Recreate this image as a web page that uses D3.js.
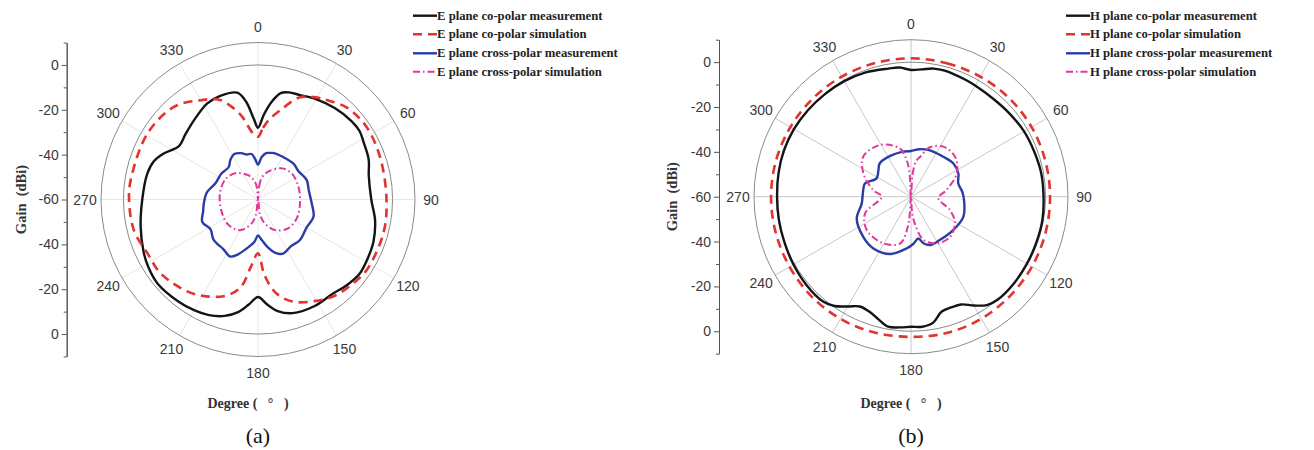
<!DOCTYPE html>
<html>
<head>
<meta charset="utf-8">
<script src="https://cdn.jsdelivr.net/npm/d3@7"></script>
<style>
  body { margin: 0; background: #ffffff; }
</style>
</head>
<body>
<div id="chart"></div>
<script>
// angles in degrees (0 = top, clockwise), gain in dBi

// (a) E plane
const eCoMeasDeg  = [0, 4, 8, 12, 16, 22, 30, 40, 50, 56, 62, 70, 78, 90, 100, 110, 118, 126, 134, 142, 152, 163, 170, 175, 180, 185, 190, 196, 203, 210, 218, 230, 238, 245, 257, 270, 283, 290, 296, 304, 312, 321, 332, 340, 349, 353, 357];
const eCoMeasGain = [-28, -22, -16, -11.5, -10.3, -9.8, -8.3, -6.8, -5.6, -5.4, -6.5, -7.5, -9.5, -9.5, -7, -5.2, -4.5, -3.9, -5, -6.4, -6.2, -7, -9.5, -13, -16.5, -13, -9, -6, -4, -3, -2.3, -1.6, -2.5, -3.8, -6.3, -8.4, -9.3, -10.5, -13.2, -17.5, -16.5, -14.6, -11.6, -10.8, -11.5, -16, -24];

const eCoSimDeg  = [0, 4, 8, 14, 22, 30, 35, 44, 56, 71, 90, 105, 123, 131, 142, 151, 161, 169, 175, 180, 186, 191, 198, 208, 218, 233, 244, 256, 270, 279, 301, 318, 330, 339, 348, 356];
const eCoSimGain = [-32, -28, -24, -19, -11, -7.5, -6, -3, -1.8, -2.4, -2.7, -2.1, -2.2, -3.4, -5.2, -8.2, -11.8, -17.4, -26, -36, -29.9, -20.4, -15, -11.1, -8.2, -5.5, -5.2, -3, -2.5, -2.6, -2.6, -4.3, -8.9, -12.5, -21, -30.7];

const eCrossMeasDeg  = [0, 5, 10, 15, 19, 30, 45, 55, 68, 80, 94, 107, 120, 134, 145, 155, 162, 169, 175, 180, 185, 193, 200, 206, 215, 228, 238, 248, 258, 266, 278, 291, 305, 318, 325, 332, 340, 346, 352, 356];
const eCrossMeasGain = [-44.5, -41, -39, -38.5, -38.1, -38, -37.5, -38, -36.6, -37, -36, -34.1, -35, -34, -34.5, -33.4, -35, -38.6, -42, -44, -41, -37.6, -34, -31.7, -33, -33.3, -35, -33.2, -35, -35.8, -37, -39.7, -40, -40.5, -38.5, -37.1, -38, -39.3, -39.5, -42];

const eCrossSimDeg  = [0, 5, 10, 20, 37, 52, 72, 95, 116, 134, 151, 164, 172, 180, 188, 195, 210, 229, 252, 279, 301, 319, 338, 350, 355];
const eCrossSimGain = [-60, -54, -50, -46.8, -42.6, -41, -41.1, -41.2, -40.8, -41.4, -44.4, -48.9, -53, -60, -53, -49, -44.2, -42.6, -42.9, -42.8, -42.9, -44.5, -48.3, -52, -55];

// (b) H plane
const hCoMeasDeg  = [0, 5, 10, 15, 20, 25, 30, 40, 50, 60, 70, 80, 90, 100, 110, 120, 130, 140, 145, 150, 155, 160, 165, 170, 175, 180, 185, 190, 195, 200, 205, 210, 215, 220, 230, 240, 250, 260, 270, 280, 290, 300, 310, 320, 330, 340, 350, 355];
const hCoMeasGain = [-3.5, -3, -2, -1.8, -2.2, -2.5, -2.8, -3, -2.5, -1.8, -1.5, -1, -0.9, -0.5, -0.5, -0.3, 0, 0, -1, -4, -7, -7.5, -7, -3, -1.8, -2, -1.5, -1.2, -3.5, -5.5, -6, -3.5, -0.5, 1, 1, 0.5, 0, -0.2, -0.3, 0, 0.3, 0.3, 0, -0.3, -0.5, -1, -2, -2.2];

const hCoSimDeg  = [0, 15, 30, 45, 60, 75, 90, 105, 120, 135, 150, 165, 180, 195, 210, 225, 240, 255, 270, 285, 300, 315, 330, 345];
const hCoSimGain = [1.7, 1.6, 1.8, 2.0, 2.1, 2.0, 2.0, 2.1, 2.3, 2.5, 2.8, 2.8, 2.5, 2.7, 2.9, 2.8, 2.5, 2.4, 2.4, 2.3, 2.1, 1.9, 1.8, 1.7];

const hCrossMeasDeg  = [0, 10, 20, 30, 39, 52, 64, 74, 85, 95, 111, 128, 146, 158, 165, 170, 177, 185, 200, 216, 230, 248, 262, 275, 286, 298, 308, 317, 333, 350];
const hCrossMeasGain = [-39.6, -38.5, -37.8, -37.5, -37.1, -36, -36.5, -38.1, -37, -36.2, -35, -36, -36.8, -36.8, -38.5, -41.1, -39, -36.8, -32.8, -31.5, -32.2, -33.9, -37.8, -38.5, -38.6, -42.6, -41.5, -39.6, -39.6, -39.6];

const hCrossSimDeg  = [0, 4, 8, 13, 21, 33, 48, 63, 79, 93, 109, 121, 136, 151, 164, 172, 176, 180, 184, 186, 193, 211, 233, 250, 270, 280, 296, 310, 329, 347, 352, 356];
const hCrossSimGain = [-60, -50, -44, -41.7, -36.4, -33.4, -33.5, -37.1, -43.8, -47.8, -41.6, -37.1, -35, -36.2, -40, -48, -53, -60, -53, -46.6, -38.6, -35.8, -35.3, -38.2, -46.9, -42.9, -36.4, -32.2, -33.1, -37.9, -42, -48];

const degreeTicks = d3.range(0, 360, 30);
const gainUpTicks = [-60, -40, -20, 0];
const gainDownTicks = [-40, -20, 0];
const gainMinorTicks = [-50, -30, -10, 10];

const eLegend = ["E plane co-polar measurement", "E plane co-polar simulation", "E plane cross-polar measurement", "E plane cross-polar simulation"];
const hLegend = ["H plane co-polar measurement", "H plane co-polar simulation", "H plane cross-polar measurement", "H plane cross-polar simulation"];

const width = 1314, height = 450;
const R = 157;
const r = d3.scaleLinear().domain([-60, 10]).range([0, R]).clamp(true);

const styles = [
  {color: "#141414", width: 2.4, dash: null},
  {color: "#e2332e", width: 2.6, dash: "9,6"},
  {color: "#2b3ca6", width: 2.4, dash: null},
  {color: "#e0379a", width: 2, dash: "7,3,1.5,3"}
];

const panels = [
  {cx: 258, cy: 199.5, axisX: 66.7, gainX: 21, spoke: "#e6e6e6", tag: "(a)", legendX: 413, legend: eLegend,
   series: [[eCoMeasDeg, eCoMeasGain], [eCoSimDeg, eCoSimGain], [eCrossMeasDeg, eCrossMeasGain], [eCrossSimDeg, eCrossSimGain]]},
  {cx: 911, cy: 196.7, axisX: 719, gainX: 672, spoke: "#c8c8c8", tag: "(b)", legendX: 1066, legend: hLegend,
   series: [[hCoMeasDeg, hCoMeasGain], [hCoSimDeg, hCoSimGain], [hCrossMeasDeg, hCrossMeasGain], [hCrossSimDeg, hCrossSimGain]]}
];

const svg = d3.select("#chart").append("svg")
  .attr("width", width)
  .attr("height", height)
  .style("background", "#ffffff");

const rad = d => d * Math.PI / 180;

const radialLine = d3.lineRadial()
  .angle(d => rad(d[0]))
  .radius(d => r(d[1]))
  .curve(d3.curveCatmullRomClosed.alpha(0.5));

panels.forEach(function(p) {
  const g = svg.append("g").attr("transform", "translate(" + p.cx + "," + p.cy + ")");

  // spokes
  g.selectAll(".spoke")
    .data(degreeTicks)
    .enter().append("line")
    .attr("class", "spoke")
    .attr("x1", 0).attr("y1", 0)
    .attr("x2", d => R * Math.sin(rad(d)))
    .attr("y2", d => -R * Math.cos(rad(d)))
    .attr("stroke", p.spoke)
    .attr("stroke-width", 1);

  // grid circles at 0 dBi and +10 dBi
  g.selectAll(".ring")
    .data([0, 10])
    .enter().append("circle")
    .attr("class", "ring")
    .attr("r", d => r(d))
    .attr("fill", "none")
    .attr("stroke", "#8a8a8a")
    .attr("stroke-width", 1);

  // angle labels
  g.selectAll(".deg")
    .data(degreeTicks)
    .enter().append("text")
    .attr("class", "deg")
    .attr("x", d => (R + 16) * Math.sin(rad(d)))
    .attr("y", d => -(R + 16) * Math.cos(rad(d)))
    .attr("text-anchor", "middle")
    .attr("dominant-baseline", "central")
    .attr("font-family", "Liberation Sans, Arial, sans-serif")
    .attr("font-size", 14)
    .attr("fill", "#3a3a3a")
    .text(d => d);

  // curves
  p.series.forEach(function(s, i) {
    const pts = s[0].map((a, k) => [a, s[1][k]]);
    g.append("path")
      .datum(pts)
      .attr("d", radialLine)
      .attr("fill", "none")
      .attr("stroke", styles[i].color)
      .attr("stroke-width", styles[i].width)
      .attr("stroke-dasharray", styles[i].dash)
      .attr("stroke-linejoin", "round");
  });

  // gain axis (mirrored about the centre)
  const up = d3.scaleLinear().domain([-60, 10]).range([p.cy, p.cy - R]);
  const down = d3.scaleLinear().domain([-60, 10]).range([p.cy, p.cy + R]);

  [[up, gainUpTicks], [down, gainDownTicks]].forEach(function(a) {
    const ax = svg.append("g").attr("transform", "translate(" + p.axisX + ",0)");
    ax.call(d3.axisLeft(a[0]).tickValues(a[1]).tickSize(5).tickSizeOuter(0).tickPadding(3).tickFormat(d => String(d)));
    ax.append("g").call(d3.axisLeft(a[0]).tickValues(gainMinorTicks).tickSize(3).tickSizeOuter(0).tickFormat(""));
    ax.selectAll("path, line").attr("stroke", "#555");
    ax.selectAll("text")
      .attr("font-family", "Liberation Sans, Arial, sans-serif")
      .attr("font-size", 14)
      .attr("fill", "#3a3a3a");
  });

  svg.append("text")
    .attr("transform", "translate(" + p.gainX + "," + p.cy + ") rotate(-90)")
    .attr("text-anchor", "middle")
    .attr("dominant-baseline", "central")
    .attr("font-family", "Liberation Serif, Times New Roman, serif")
    .attr("font-weight", "bold")
    .attr("font-size", 14.5)
    .attr("fill", "#333")
    .style("white-space", "pre")
    .text("Gain  (dBi)");

  svg.append("text")
    .attr("x", p.cx - 10)
    .attr("y", 408)
    .attr("text-anchor", "middle")
    .attr("font-family", "Liberation Serif, Times New Roman, serif")
    .attr("font-weight", "bold")
    .attr("font-size", 14)
    .attr("fill", "#333")
    .style("white-space", "pre")
    .text("Degree (   °   )");

  svg.append("text")
    .attr("x", p.cx)
    .attr("y", 443)
    .attr("text-anchor", "middle")
    .attr("font-family", "Liberation Serif, Times New Roman, serif")
    .attr("font-size", 22)
    .attr("fill", "#111")
    .text(p.tag);

  // legend
  const rowsY = [15.7, 34.3, 53.3, 71.7];
  const lg = svg.append("g");
  p.legend.forEach(function(name, i) {
    lg.append("line")
      .attr("x1", p.legendX).attr("x2", p.legendX + 24)
      .attr("y1", rowsY[i]).attr("y2", rowsY[i])
      .attr("stroke", styles[i].color)
      .attr("stroke-width", styles[i].width)
      .attr("stroke-dasharray", styles[i].dash);
    lg.append("text")
      .attr("x", p.legendX + 24)
      .attr("y", rowsY[i])
      .attr("dominant-baseline", "central")
      .attr("font-family", "Liberation Serif, Times New Roman, serif")
      .attr("font-weight", "bold")
      .attr("font-size", 12.7)
      .attr("fill", "#222")
      .text(name);
  });
});
</script>
</body>
</html>
